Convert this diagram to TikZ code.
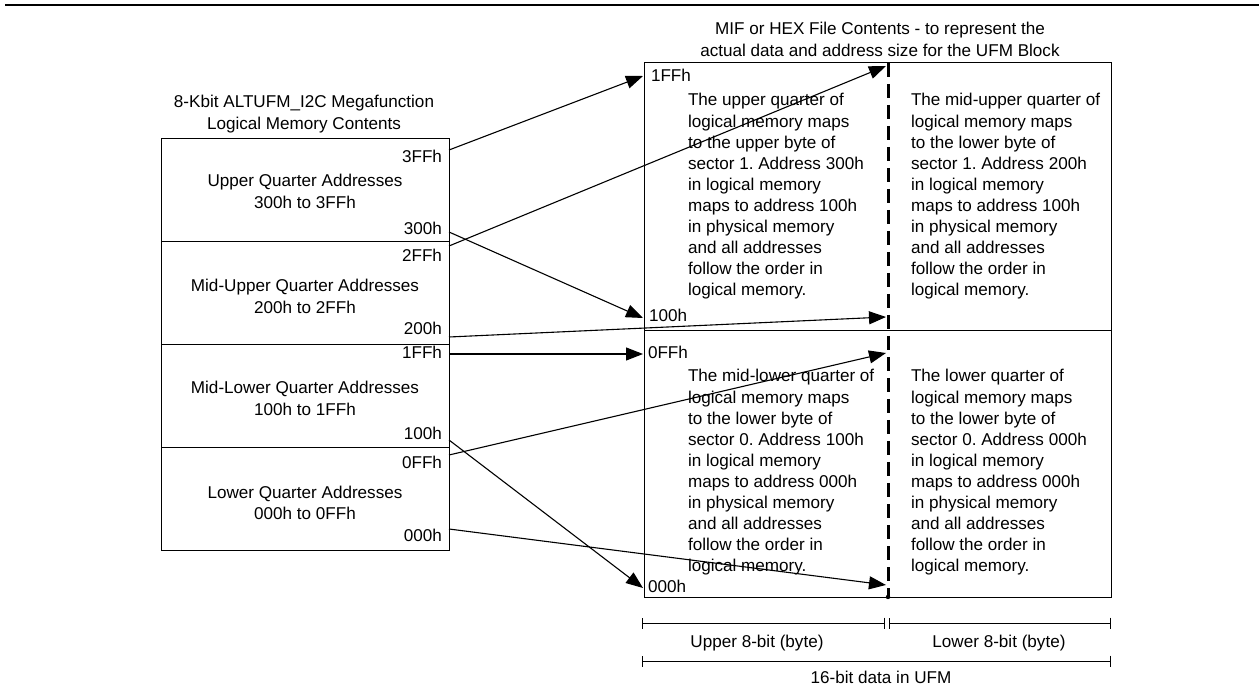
\documentclass[tikz,border=0pt]{standalone}
\usepackage{fontspec}
\setmainfont{Liberation Sans}
\usetikzlibrary{arrows.meta}
\frenchspacing
\begin{document}
\begin{tikzpicture}[x=1pt,y=-1pt,
  txt/.style={font=\fontsize{17.1}{21.1}\selectfont, inner sep=0pt, outer sep=0pt},
  lbl/.style={txt, anchor=base east},
  rlbl/.style={txt, anchor=base west},
  para/.style={txt, anchor=base west},
  ctr/.style={txt, anchor=base},
  qbox/.style={draw, line width=1pt, minimum width=288pt, minimum height=103pt, anchor=north west, inner sep=0pt},
  conn/.style={line width=1.1pt, -{Triangle[length=17pt,width=13pt]}},
  dimline/.style={line width=1pt, {Bar[width=11pt]}-{Bar[width=11pt]}}]
\useasboundingbox (0,0) rectangle (1259,700);
\draw[line width=2.5pt] (5,5) -- (1259,5);

% left title
\node[ctr] (ltitle) at (304,108) {\begin{tabular}[t]{@{}c@{}}8-Kbit ALTUFM\_I2C Megafunction\\ Logical Memory Contents\end{tabular}};

% left boxes
\node[qbox] (q3) at (161,138) {};
\node[qbox] (q2) at (161,241) {};
\node[qbox] (q1) at (161,344) {};
\node[qbox] (q0) at (161,447) {};

\node[ctr] (q3t) at (305,187) {\begin{tabular}[t]{@{}c@{}}Upper Quarter Addresses\\ 300h to 3FFh\end{tabular}};
\node[ctr] (q2t) at (305,292) {\begin{tabular}[t]{@{}c@{}}Mid-Upper Quarter Addresses\\ 200h to 2FFh\end{tabular}};
\node[ctr] (q1t) at (305,394) {\begin{tabular}[t]{@{}c@{}}Mid-Lower Quarter Addresses\\ 100h to 1FFh\end{tabular}};
\node[ctr] (q0t) at (305,498) {\begin{tabular}[t]{@{}c@{}}Lower Quarter Addresses\\ 000h to 0FFh\end{tabular}};

\node[lbl] (l3ff) at (442,163) {3FFh};
\node[lbl] (l300) at (442,235) {300h};
\node[lbl] (l2ff) at (442,262) {2FFh};
\node[lbl] (l200) at (442,335) {200h};
\node[lbl] (l1ff) at (442,359) {1FFh};
\node[lbl] (l100) at (442,440) {100h};
\node[lbl] (l0ff) at (442,468) {0FFh};
\node[lbl] (l000) at (442,541) {000h};

% right title
\node[ctr] (rtitle) at (880,35) {\begin{tabular}[t]{@{}c@{}}MIF or HEX File Contents - to represent the\\ actual data and address size for the UFM Block\end{tabular}};

% right box
\draw[line width=1pt] (644,63) rectangle (1111,597);
\draw[line width=1pt] (644,331) -- (1111,331);
\draw[line width=3pt, dash pattern=on 14pt off 7pt] (888,63) -- (888,597);
\fill (888,597) circle (2.2pt);

\node[rlbl] (r1ff) at (651,82) {1FFh};
\node[rlbl] (r100) at (649,322) {100h};
\node[rlbl] (r0ff) at (648,359) {0FFh};
\node[rlbl] (r000) at (648,592) {000h};

\node[para] (pUL) at (688,106) {\begin{tabular}[t]{@{}l@{}}The upper quarter of\\ logical memory maps\\ to the upper byte of\\ sector 1. Address 300h\\ in logical memory\\ maps to address 100h\\ in physical memory\\ and all addresses\\ follow the order in\\ logical memory.\end{tabular}};
\node[para] (pUR) at (911,106) {\begin{tabular}[t]{@{}l@{}}The mid-upper quarter of\\ logical memory maps\\ to the lower byte of\\ sector 1. Address 200h\\ in logical memory\\ maps to address 100h\\ in physical memory\\ and all addresses\\ follow the order in\\ logical memory.\end{tabular}};
\node[para] (pLL) at (688,382) {\begin{tabular}[t]{@{}l@{}}The mid-lower quarter of\\ logical memory maps\\ to the lower byte of\\ sector 0. Address 100h\\ in logical memory\\ maps to address 000h\\ in physical memory\\ and all addresses\\ follow the order in\\ logical memory.\end{tabular}};
\node[para] (pLR) at (911,382) {\begin{tabular}[t]{@{}l@{}}The lower quarter of\\ logical memory maps\\ to the lower byte of\\ sector 0. Address 000h\\ in logical memory\\ maps to address 000h\\ in physical memory\\ and all addresses\\ follow the order in\\ logical memory.\end{tabular}};

% connector end points
\coordinate (s1) at (449,150);
\coordinate (s2) at (449,232);
\coordinate (s3) at (449,246);
\coordinate (s4) at (449,337);
\coordinate (s5) at (449,354);
\coordinate (s6) at (449,440);
\coordinate (s7) at (449,455);
\coordinate (s8) at (449,529);
\coordinate (t1) at (643,76);
\coordinate (t2) at (643,318);
\coordinate (t3) at (886,66);
\coordinate (t4) at (886,317);
\coordinate (t5) at (643,354);
\coordinate (t6) at (643,588);
\coordinate (t7) at (886,353);
\coordinate (t8) at (886,585);

\draw[conn] (s1) -- (t1);
\draw[conn] (s2) -- (t2);
\draw[conn] (s3) -- (t3);
\draw[conn] (s4) -- (t4);
\draw[conn] (s5) -- (t5);
\draw[conn] (s6) -- (t6);
\draw[conn] (s7) -- (t7);
\draw[conn] (s8) -- (t8);

% dimension lines
\coordinate (d1a) at (642,623);
\coordinate (d1b) at (885,623);
\coordinate (d2a) at (889,623);
\coordinate (d2b) at (1111,623);
\coordinate (d3a) at (642,661);
\coordinate (d3b) at (1111,661);
\draw[dimline] (d1a) -- (d1b);
\draw[dimline] (d2a) -- (d2b);
\draw[dimline] (d3a) -- (d3b);
\node[ctr] (upb) at (757,647) {Upper 8-bit (byte)};
\node[ctr] (lob) at (999,647) {Lower 8-bit (byte)};
\node[ctr] (ufm) at (881,683) {16-bit data in UFM};
\end{tikzpicture}
\end{document}
